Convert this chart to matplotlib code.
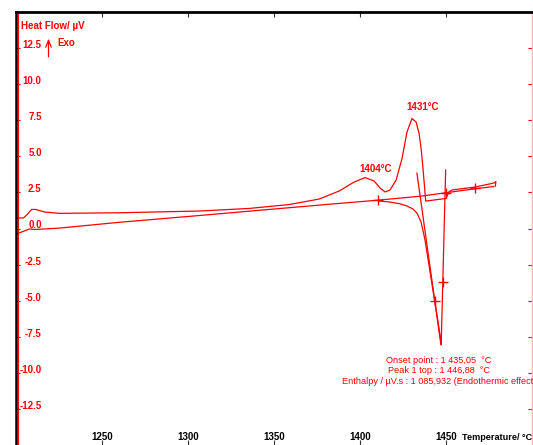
import matplotlib
matplotlib.use("Agg")
import matplotlib.pyplot as plt

plt.rcParams['font.family'] = ['Liberation Sans', 'DejaVu Sans']

RED = '#ff0000'

# upper trace (exo peaks at 1404 and 1431 °C)
heat_t = [1200.1, 1204.4, 1206.7, 1209.1, 1211.5, 1216.7, 1225.3, 1260.1, 1306.6,
          1335.6, 1358.8, 1376.3, 1387.9, 1396.6, 1403.0, 1408.2, 1411.7, 1414.6,
          1417.5, 1421.0, 1424.5, 1427.3, 1430.2, 1432.6, 1434.3, 1435.5, 1436.6,
          1438.2, 1450.0, 1451.7, 1453.5, 1466.8, 1477.8, 1479.0, 1478.7]
heat_hf = [0.73, 0.73, 1.00, 1.32, 1.32, 1.14, 1.05, 1.09, 1.21,
           1.39, 1.66, 2.04, 2.60, 3.22, 3.53, 3.29, 2.80, 2.53,
           2.67, 3.36, 4.88, 6.68, 7.62, 7.38, 6.61, 5.57, 4.19,
           1.90, 2.08, 2.53, 2.67, 2.87, 3.15, 3.25, 2.94]

# lower trace / baseline
base_t = [1200.1, 1203.3, 1207.9, 1211.4, 1225.3, 1260.1, 1306.6, 1382.1,
          1411.1, 1436.1, 1450.0, 1467.4, 1477.8]
base_hf = [-0.38, -0.24, -0.03, -0.07, 0.03, 0.43, 0.90, 1.68,
           1.97, 2.25, 2.48, 2.76, 2.91]

# endothermic peak
endo_t = [1411.1, 1416.9, 1422.7, 1427.3, 1430.8, 1433.1, 1435.5, 1437.8,
          1440.1, 1443.0, 1445.4, 1446.9, 1447.2, 1449.8]
endo_hf = [1.90, 1.84, 1.73, 1.56, 1.35, 1.07, 0.45, -0.80,
           -2.53, -4.74, -6.48, -7.72, -8.07, 4.05]

# onset tangent
tang_t = [1433.1, 1446.9]
tang_hf = [3.84, -7.93]

# construction marks
mark_t = [1410.5, 1467.1, 1449.8, 1443.6, 1448.0]
mark_hf = [1.97, 2.84, 2.46, -5.0, -3.7]

x_ticks = [1250, 1300, 1350, 1400, 1450]
y_ticks = [-12.5, -10.0, -7.5, -5.0, -2.5, 0.0, 2.5, 5.0, 7.5, 10.0, 12.5]

peak_names = ['1404°C', '1431°C']
peak_name_t = [1408.8, 1436.6]
peak_name_hf = [4.09, 8.41]

results = "Onset point : 1 435,05  °C\nPeak 1 top : 1 446,88  °C\nEnthalpy / µV.s : 1 085,932 (Endothermic effect)"

fig = plt.figure(figsize=(5.33, 4.45), dpi=100)
ax = fig.add_axes([16 / 533, 0, 516 / 533, 433 / 445])
ax.set_xlim(1200, 1500)
ax.set_ylim(-15, 15)

ax.plot(heat_t, heat_hf, color=RED, lw=0.9)
ax.plot(base_t, base_hf, color=RED, lw=0.9)
ax.plot(endo_t, endo_hf, color=RED, lw=0.9)
ax.plot(tang_t, tang_hf, color=RED, lw=0.9)
ax.plot(mark_t, mark_hf, ls='none', marker='+', ms=7, mew=1, color=RED)

for name, t, hf in zip(peak_names, peak_name_t, peak_name_hf):
    ax.text(t, hf, name, color=RED, fontsize=7, fontweight='bold', ha='center', va='center')

ax.text(1445.9, -9.85, results, color=RED, fontsize=6.6, ha='center', va='center',
        linespacing=1.2, clip_on=False)

ax.text(1202.7, 13.79, 'Heat Flow/ µV', color=RED, fontsize=7, fontweight='bold', va='baseline')
ax.text(1224.3, 12.64, 'Exo', color=RED, fontsize=7, fontweight='bold', va='baseline')
ax.annotate('', xy=(1218.9, 13.35), xytext=(1218.9, 11.7),
            arrowprops=dict(arrowstyle='->,head_length=0.5,head_width=0.2', color=RED, lw=0.9))
ax.text(0.8640, 0.0116, 'Temperature/ °C', transform=ax.transAxes, color='black',
        fontsize=6.6, fontweight='bold', va='baseline')

ax.set_xticks(x_ticks)
ax.set_yticks(y_ticks)
ax.set_yticklabels([f'{v:.1f}' for v in y_ticks])
ax.tick_params(axis='x', top=True, bottom=True, direction='in', length=3.3,
               color='#333333', labelcolor='black', labelsize=7, pad=-3.6)
ax.tick_params(axis='y', left=True, right=True, direction='in', length=3.2,
               color=RED, labelcolor=RED, labelsize=7, pad=-18.5)
for lab in ax.get_xticklabels():
    lab.set_fontweight('bold')
    lab.set_va('baseline')
for lab in ax.get_yticklabels():
    lab.set_fontweight('bold')
    lab.set_va('baseline')

ax.spines['bottom'].set_visible(False)
ax.spines['top'].set_linewidth(2)
ax.spines['left'].set_linewidth(1.8)
ax.spines['right'].set_color('#ffb3b3')
ax.spines['right'].set_linewidth(1)
ax.axvline(1200.9, color=RED, lw=0.8)

fig.savefig('out.png', dpi=100)
